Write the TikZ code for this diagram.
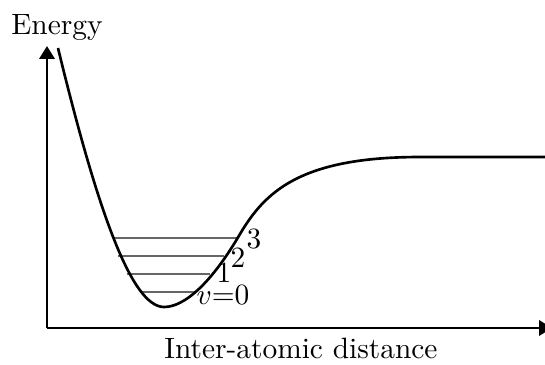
\documentclass[tikz,border=0pt]{standalone}
\usetikzlibrary{arrows.meta}

\begin{document}
\begin{tikzpicture}[
    x=0.34pt, y=-0.34pt,
    axis/.style={line width=0.9pt, -{Triangle[length=4.4pt, width=5.2pt]}},
    morse/.style={line width=0.9pt},
    level/.style={draw=black!60, line width=0.8pt},
    qnum/.style={anchor=base, inner sep=0pt}
]
\useasboundingbox (0,0) rectangle (545,364);
\clip (0,0) rectangle (545,364);

% ---------------- Axes ----------------
\coordinate (origin) at (47,328);
\coordinate (ytip) at (47,46);
\coordinate (xtip) at (552,328);
\draw[axis] (origin) -- (ytip);
\draw[axis] (origin) -- (xtip);

\node[anchor=base] (ylabel) at (57,34) {Energy};
\node[anchor=base] (xlabel) at (301,358) {Inter-atomic distance};

% ---------------- Vibrational levels ----------------
\foreach \y/\xl/\xr in {292/141/195, 274/127/210, 256/118/224, 238/113/238}
    \draw[level] (\xl,\y) -- (\xr,\y);

% ---------------- Potential curve ----------------
\draw[morse] (58,48) .. controls (95,200) and (130,307) .. (164,307)
    .. controls (185,307) and (212,282) .. (240,234)
    .. controls (265,192) and (300,157) .. (420,157) -- (550,157);

\node[qnum] (v0) at (223,304) {$v{=}0$};
\node[qnum] (v1) at (224,282) {$1$};
\node[qnum] (v2) at (238,267) {$2$};
\node[qnum] (v3) at (254,248) {$3$};

\end{tikzpicture}
\end{document}
